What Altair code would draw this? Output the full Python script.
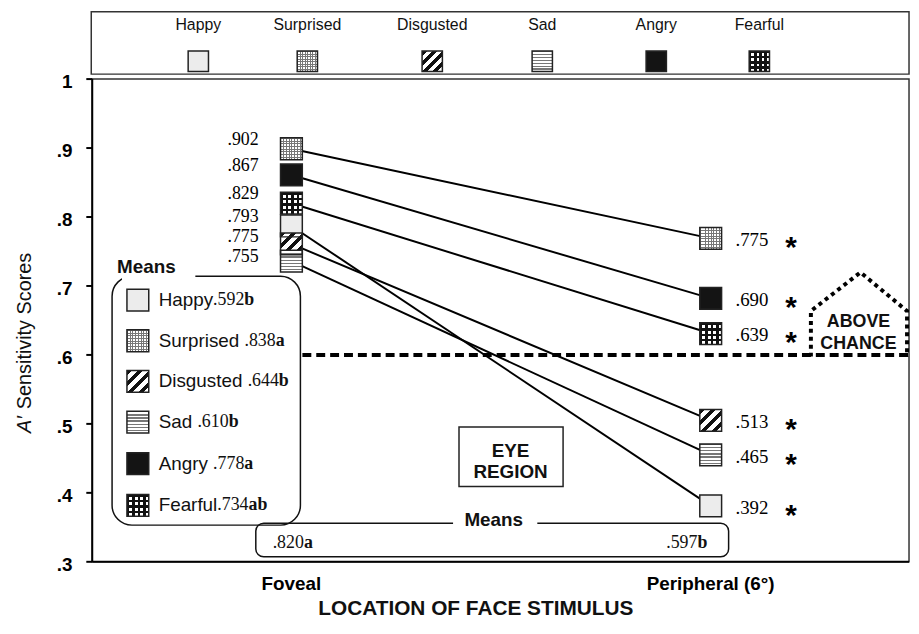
import altair as alt
import pandas as pd

# ---------------- data ----------------
emotions = ["Happy", "Surprised", "Disgusted", "Sad", "Angry", "Fearful"]
foveal_values = [0.793, 0.902, 0.775, 0.755, 0.867, 0.829]
peripheral_values = [0.392, 0.775, 0.513, 0.465, 0.690, 0.639]
# where the markers are drawn (foveal ones are stacked)
foveal_marker_pos = [0.787, 0.899, 0.761, 0.736, 0.861, 0.820]
peripheral_marker_pos = [0.381, 0.769, 0.505, 0.455, 0.682, 0.631]
emotion_mean_names = ["Happy", "Surprised ", "Disgusted ", "Sad ", "Angry ", "Fearful"]
emotion_means = [".592", ".838", ".644", ".610", ".778", ".734"]
emotion_mean_letters = ["b", "a", "b", "b", "a", "ab"]
conditions = ["Foveal", "Peripheral (6°)"]
condition_means = [".820", ".597"]
condition_mean_letters = ["a", "b"]
y_ticks = [0.3, 0.4, 0.5, 0.6, 0.7, 0.8, 0.9, 1.0]
chance_level = [0.6]

W, H = 824, 487
Y_MIN, Y_MAX = 0.3, 1.0
SANS = "Liberation Sans"
SERIF = "Liberation Serif"

ARIAL = {"H": 722, "a": 556, "p": 556, "y": 500, "S": 667, "u": 556, "r": 333, "i": 222,
         "s": 500, "e": 556, "d": 556, "D": 722, "g": 556, "t": 278, "A": 667, "n": 556,
         "F": 611, "f": 278, "l": 222, " ": 278, "c": 500, "o": 556, "v": 500}
TIMES = {".": 250, **{str(d): 500 for d in range(10)}}


def tw(s, table, size):
    return sum(table.get(ch, 556) for ch in s) * size / 1000.0


def fmt(v):
    return f"{v:.3f}"[1:]


def stripes(c1, c2, n, x2, y2, frac=0.5):
    stops = []
    for i in range(n):
        a, b, c = i / n, (i + frac) / n, (i + 1) / n
        stops += [(a, c1), (b, c1), (b, c2), (c, c2)]
    return alt.LinearGradient(
        gradient="linear",
        stops=[alt.GradientStop(offset=o, color=col) for o, col in stops],
        x1=0, y1=0, x2=x2, y2=y2)


CLEAR = "rgba(255,255,255,0)"
FILLS = {
    "Happy": ["#ececec"],
    "Surprised": [stripes("#777", "#fff", 8, 0, 1, 0.35), stripes("#777", CLEAR, 8, 1, 0, 0.35)],
    "Disgusted": [stripes("#111", "#fff", 4, 1, 1, 0.5)],
    "Sad": [stripes("#777", "#fff", 7, 0, 1, 0.4)],
    "Angry": ["#141414"],
    "Fearful": [stripes("#111", "#fff", 4, 0, 1, 0.45), stripes("#111", CLEAR, 4, 1, 0, 0.45)],
}

xs = alt.Scale(domain=[-0.475, 1.473], nice=False, zero=False)
ys = alt.Scale(domain=[Y_MIN, Y_MAX], nice=False, zero=False)

# foveal labels sit a little above their marker and are kept at least 20px apart
def to_px(v):
    return (Y_MAX - v) / (Y_MAX - Y_MIN) * H


def to_val(p):
    return Y_MAX - p / H * (Y_MAX - Y_MIN)


order = sorted(range(len(emotions)), key=lambda i: -foveal_marker_pos[i])
fov_label_pos = [0.0] * len(emotions)
prev = -1e9
for i in order:
    p = max(to_px(foveal_marker_pos[i]) - 9, prev + 20)
    prev = p
    fov_label_pos[i] = to_val(p)

rows = []
for i, e in enumerate(emotions):
    rows.append(dict(emotion=e, cond=0, pos=foveal_marker_pos[i], lpos=fov_label_pos[i],
                     label=fmt(foveal_values[i])))
    rows.append(dict(emotion=e, cond=1, pos=peripheral_marker_pos[i], lpos=peripheral_marker_pos[i],
                     label=fmt(peripheral_values[i])))
mk = pd.DataFrame(rows)

X = alt.X("cond:Q", scale=xs, axis=None)
Y = alt.Y("pos:Q", scale=ys, axis=None)


def pchart(df):
    return alt.Chart(pd.DataFrame(df))


def PX(f="px"):
    return alt.X(f"{f}:Q", scale=None, axis=None)


def PY(f="py"):
    return alt.Y(f"{f}:Q", scale=None, axis=None)


def ptext(xs_, ys_, texts, **kw):
    return pchart({"px": xs_, "py": ys_, "t": texts}).mark_text(**kw).encode(
        x=PX(), y=PY(), text="t:N")


def prect(x, x2, y, y2, **kw):
    return pchart({"px": [x], "px2": [x2], "py": [y], "py2": [y2]}).mark_rect(**kw).encode(
        x=PX(), x2=alt.X2("px2"), y=PY(), y2=alt.Y2("py2"))


L = []

# top legend box
L.append(prect(-1, 824, -68, -5, fill="white", stroke="#333", strokeWidth=1.5))
# left "Means" box
L.append(prect(20, 210, 199, 450, fill=CLEAR, stroke="#111", strokeWidth=1.5, cornerRadius=20))
L.append(prect(30, 104, 194, 204, fill="white"))
# bottom "Means" box
L.append(prect(165, 642, 448, 482, fill=CLEAR, stroke="#111", strokeWidth=1.5, cornerRadius=8))
L.append(prect(364, 449, 443, 453, fill="white"))
# EYE REGION box
L.append(prect(370, 475, 351, 411, fill=CLEAR, stroke="#222", strokeWidth=1.5))

# ---- axes drawn by hand (through the scales) ----
ticks_df = pd.DataFrame({"t": y_ticks,
                         "lab": ["1" if t == 1 else f"{t:.1f}"[1:] for t in y_ticks]})
L.append(alt.Chart(ticks_df).mark_rule(color="black", strokeWidth=2).encode(
    y=alt.Y("t:Q", scale=ys, axis=None), x=alt.value(-6), x2=alt.value(0)))
L.append(alt.Chart(ticks_df).mark_text(font=SANS, fontSize=19, fontWeight="bold", align="right",
                                       baseline="middle", dy=3, color="black").encode(
    y=alt.Y("t:Q", scale=ys, axis=None), x=alt.value(-20), text="lab:N"))
L.append(alt.Chart(ticks_df.head(1)).mark_rule(color="black", strokeWidth=2).encode(
    x=alt.value(0), y=alt.value(0), y2=alt.value(H)))
L.append(alt.Chart(ticks_df.head(1)).mark_rule(color="black", strokeWidth=2).encode(
    x=alt.value(0), x2=alt.value(W), y=alt.value(H)))
cond_df = pd.DataFrame({"cond": [0, 1], "lab": conditions})
L.append(alt.Chart(cond_df).mark_text(font=SANS, fontSize=19, fontWeight="bold", align="center",
                                      baseline="middle", color="black").encode(
    x=alt.X("cond:Q", scale=xs, axis=None), y=alt.value(H + 22), text="lab:N"))

# connecting lines
L.append(alt.Chart(mk).mark_line(color="black", strokeWidth=2).encode(
    x=X, y=Y, detail="emotion:N"))

# chance line
L.append(alt.Chart(pd.DataFrame({"c": chance_level})).mark_rule(
    color="black", strokeWidth=4, strokeDash=[9, 5]).encode(
    y=alt.Y("c:Q", scale=ys, axis=None), x=alt.value(212), x2=alt.value(824)))

# ABOVE CHANCE house
house = pd.DataFrame({"px": [725, 725, 775, 822, 822], "py": [280, 234, 195, 234, 280], "o": [0, 1, 2, 3, 4]})
L.append(alt.Chart(house).mark_line(color="black", strokeWidth=4, strokeDash=[4, 4], strokeCap="butt").encode(
    x=PX(), y=PY(), order="o:Q"))

# markers
for e in emotions:
    for f in FILLS[e]:
        L.append(alt.Chart(mk[mk.emotion == e]).mark_point(
            shape="square", size=484, filled=True, fill=f, opacity=1, strokeWidth=0).encode(x=X, y=Y))
L.append(alt.Chart(mk).mark_point(shape="square", size=484, filled=False, stroke="#222",
                                  strokeWidth=1.5, opacity=1).encode(x=X, y=Y))

# legend swatches (top legend + left means legend)
legend_x = [107, 217, 343, 454, 569, 673]
row_y = [223, 264, 305, 346, 388, 430]
sw = []
for i, e in enumerate(emotions):
    sw.append(dict(emotion=e, px=legend_x[i], py=-18, s=420))
    sw.append(dict(emotion=e, px=46, py=row_y[i], s=484))
sw = pd.DataFrame(sw)
for e in emotions:
    for f in FILLS[e]:
        L.append(alt.Chart(sw[sw.emotion == e]).mark_point(
            shape="square", filled=True, fill=f, opacity=1, strokeWidth=0).encode(
            x=PX(), y=PY(), size=alt.Size("s:Q", scale=None, legend=None)))
L.append(alt.Chart(sw).mark_point(shape="square", filled=False, stroke="#222", strokeWidth=1.5,
                                  opacity=1).encode(
    x=PX(), y=PY(), size=alt.Size("s:Q", scale=None, legend=None)))

# value labels
YL = alt.Y("lpos:Q", scale=ys, axis=None)
L.append(alt.Chart(mk[mk.cond == 0]).mark_text(
    font=SERIF, fontSize=18, align="right", baseline="middle", dx=-33, color="black").encode(
    x=X, y=YL, text="label:N"))
L.append(alt.Chart(mk[mk.cond == 1]).mark_text(
    font=SERIF, fontSize=19, align="left", baseline="middle", dx=25, dy=2, color="black").encode(
    x=X, y=YL, text="label:N"))
L.append(alt.Chart(mk[mk.cond == 1]).mark_text(
    font=SANS, fontSize=30, fontWeight="bold", align="center", baseline="alphabetic",
    dx=81, dy=19, color="black", text="*").encode(x=X, y=Y))

# top legend labels
L.append(ptext(legend_x, [-55] * 6, emotions, font=SANS, fontSize=16, align="center",
               baseline="middle", color="#111"))

# left means legend
name_x = 67
L.append(ptext([name_x] * 6, row_y, emotion_mean_names, font=SANS, fontSize=19, align="left",
               baseline="middle", color="#111"))
vx = [name_x + tw(n, ARIAL, 19) for n in emotion_mean_names]
L.append(ptext(vx, row_y, emotion_means, font=SERIF, fontSize=18, align="left",
               baseline="middle", color="#111"))
lx = [v + tw(m, TIMES, 18) for v, m in zip(vx, emotion_means)]
L.append(ptext(lx, row_y, emotion_mean_letters, font=SERIF, fontSize=18, fontWeight="bold",
               align="left", baseline="middle", color="#111"))
L.append(ptext([25], [190], ["Means"], font=SANS, fontSize=19, fontWeight="bold", align="left",
               baseline="middle", color="#111"))

# bottom means
cmx = [182, 579]
L.append(ptext(cmx, [468, 468], condition_means, font=SERIF, fontSize=18, align="left",
               baseline="middle", color="#111"))
L.append(ptext([x + tw(m, TIMES, 18) for x, m in zip(cmx, condition_means)], [468, 468],
               condition_mean_letters, font=SERIF, fontSize=18, fontWeight="bold", align="left",
               baseline="middle", color="#111"))
L.append(ptext([405], [445], ["Means"], font=SANS, fontSize=19, fontWeight="bold", align="center",
               baseline="middle", color="#111"))

# annotations
L.append(ptext([422, 422], [375, 396], ["EYE", "REGION"], font=SANS, fontSize=19, fontWeight="bold",
               align="center", baseline="middle", color="#111"))
L.append(ptext([773, 773], [245, 267], ["ABOVE", "CHANCE"], font=SANS, fontSize=18, fontWeight="bold",
               align="center", baseline="middle", color="#111"))

# axis titles (text runs upward: align left = starts at the anchor and goes up)
L.append(ptext([-68], [357], ["A′"], font=SANS, fontSize=20, fontStyle="italic", angle=270,
               align="left", baseline="middle", color="#111"))
L.append(ptext([-68], [333], ["Sensitivity Scores"], font=SANS, fontSize=20, angle=270,
               align="left", baseline="middle", color="#111"))
L.append(ptext([387], [535], ["LOCATION OF FACE STIMULUS"], font=SANS, fontSize=21, fontWeight="bold",
               align="center", baseline="middle", color="#111"))

chart = alt.layer(*L).properties(
    width=W, height=H,
    autosize=alt.AutoSizeParams(type="none"),
    padding={"left": 85, "top": 69, "right": 2, "bottom": 56},
).configure_view(stroke="#333", strokeWidth=1.5)

chart.save("out.html", embed_options={"renderer": "svg", "actions": False})
